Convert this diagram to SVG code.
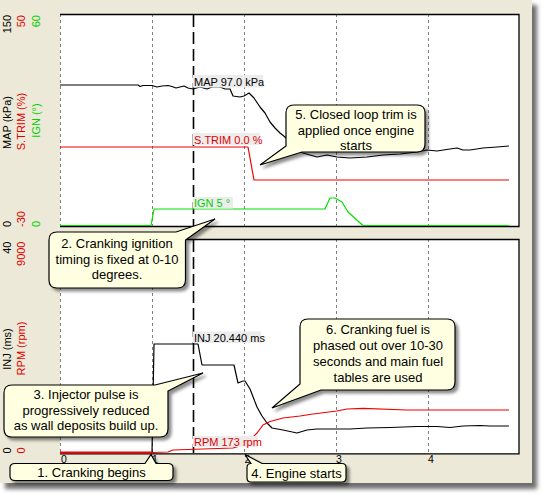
<svg xmlns="http://www.w3.org/2000/svg" width="544" height="496" viewBox="0 0 544 496">
<defs>
<filter id="fshadow" x="-5%" y="-5%" width="115%" height="115%"><feGaussianBlur stdDeviation="2.2"/></filter>
<filter id="cshadow" x="-10%" y="-20%" width="130%" height="150%"><feDropShadow dx="3" dy="3" stdDeviation="1.4" flood-color="#000" flood-opacity="0.45"/></filter>
<style>
text{font-family:"Liberation Sans",Arial,sans-serif}
.ax{font-size:11px}
.tick{font-size:10.5px}
.blk{fill:#000}.red{fill:#e00000}.grn{fill:#00d000}
.grid{stroke:#808080;stroke-width:1;stroke-dasharray:3 3;fill:none}
.brd{stroke:#000;stroke-width:1.3;fill:none}
.cur{fill:none;stroke-width:1.2;stroke-linejoin:round}
.lbl{fill:#ececec}
.dlab{font-size:11px}
.call{fill:#ffffe1;stroke:#000;stroke-width:1.2;filter:url(#cshadow)}
.ct{font-size:13px;fill:#000;text-anchor:middle}
.mark{stroke:#000;stroke-width:1.6;stroke-dasharray:12 5;fill:none}
</style>
</defs>

<rect x="5" y="5" width="532" height="484" fill="#6e6e6e" filter="url(#fshadow)"/>
<rect x="0" y="0" width="532" height="483" fill="#ece9d8"/>

<g id="plot-top">
<rect x="60" y="14" width="459" height="212.5" fill="#fff"/>
<line class="grid" x1="60.5" y1="14" x2="60.5" y2="226"/>
<line class="grid" x1="152.5" y1="14" x2="152.5" y2="226"/>
<line class="grid" x1="244.5" y1="14" x2="244.5" y2="226"/>
<line class="grid" x1="336.5" y1="14" x2="336.5" y2="226"/>
<line class="grid" x1="428.5" y1="14" x2="428.5" y2="226"/>
<polyline class="brd" points="60,14.5 519,14.5 519,226.5 60,226.5"/>
</g>
<g id="plot-bottom">
<rect x="60" y="239" width="459" height="214.5" fill="#fff"/>
<line class="grid" x1="60.5" y1="239" x2="60.5" y2="453"/>
<line class="grid" x1="152.5" y1="239" x2="152.5" y2="453"/>
<line class="grid" x1="244.5" y1="239" x2="244.5" y2="453"/>
<line class="grid" x1="336.5" y1="239" x2="336.5" y2="453"/>
<line class="grid" x1="428.5" y1="239" x2="428.5" y2="453"/>
<polyline class="brd" points="60,239.5 519,239.5 519,453.8 60,453.8"/>
</g>

<g id="marker-line">
<line class="mark" x1="193.5" y1="15" x2="193.5" y2="226"/>
<line class="mark" x1="193.5" y1="240" x2="193.5" y2="453"/>
</g>

<g id="axis-labels" class="ax">
<text class="blk" transform="translate(11,15) rotate(-90)" text-anchor="end">150</text>
<text class="red" transform="translate(25,15) rotate(-90)" text-anchor="end">50</text>
<text class="grn" transform="translate(40,15) rotate(-90)" text-anchor="end">60</text>
<text class="blk" transform="translate(11,122.5) rotate(-90)" text-anchor="middle">MAP (kPa)</text>
<text class="red" transform="translate(25,121.5) rotate(-90)" text-anchor="middle">S.TRIM (%)</text>
<text class="grn" transform="translate(40,120.5) rotate(-90)" text-anchor="middle">IGN (°)</text>
<text class="blk" transform="translate(11,227) rotate(-90)">0</text>
<text class="red" transform="translate(25,227) rotate(-90)">-30</text>
<text class="grn" transform="translate(40,227) rotate(-90)">0</text>
<text class="blk" transform="translate(11,241.5) rotate(-90)" text-anchor="end">40</text>
<text class="red" transform="translate(25,241.5) rotate(-90)" text-anchor="end">9000</text>
<text class="blk" transform="translate(11,349) rotate(-90)" text-anchor="middle">INJ (ms)</text>
<text class="red" transform="translate(25,348.5) rotate(-90)" text-anchor="middle">RPM (rpm)</text>
<text class="blk" transform="translate(11,453.5) rotate(-90)">0</text>
<text class="red" transform="translate(25,453.5) rotate(-90)">0</text>
</g>
<g id="x-ticks" class="tick">
<text class="blk" x="61" y="463">0</text>
<text class="blk" x="152" y="463">1</text>
<text class="blk" x="244.5" y="463">2</text>
<text class="blk" x="336" y="463">3</text>
<text class="blk" x="428" y="463">4</text>
</g>

<g id="curves">
<polyline class="cur" stroke="#000" points="60,85 138,85 140,86.5 143,85.5 152,85.5 157,87 162,86 168,85.5 172,86.5 176,88 180,87 184,86 188,88 193,89 200,87 207,89 212,87 220,87 225,89 230,89 233,96 240,97 244,96 249,93 254,98 260,107 265,113 270,122 275,128 280,133 285,137 290,142 295,147 300,152 303,153 317,157 327,155 337,157 350,158 367,157 383,155 400,154 417,152 427,150 437,151 450,149 457,148 463,150 470,150 483,148 497,147 509,146"/>
<polyline class="cur" stroke="#f00000" stroke-width="1.5" points="60,147 248,147 254,180 509,180"/>
<polyline class="cur" stroke="#00e000" points="60,225.5 151,225.5 154,209 325,209 330,198 335,198 342,202 348,212 363,225.5 509,225.5"/>
<polyline class="cur" stroke="#000" points="60,452.5 152,452.5 154,344 198,344 202,365 234,365 238,383 243,381 245,381 250,389 257,407 262,416 267,423 272,428 283,430 297,433 307,430 317,429 350,429 367,428 390,427.5 417,426.5 437,426.5 450,427.5 463,426 480,425.5 490,426 509,426"/>
<line x1="60" y1="452.5" x2="152" y2="452.5" stroke="#f00000" stroke-width="2.2"/>
<polyline class="cur" stroke="#f00000" points="152,452.5 168,452 173,450 233,448 240,446 250,440 257,433 263,425 270,421.5 283,418 300,416 313,414 337,411 347,409 363,408.3 407,410 509,410"/>
</g>

<g id="data-labels" class="dlab">
<rect class="lbl" x="193" y="75" width="70" height="12.5"/>
<text class="blk" x="194" y="85.5">MAP 97.0 kPa</text>
<rect class="lbl" x="193" y="133" width="67" height="12"/>
<text class="red" x="194" y="143.5">S.TRIM 0.0 %</text>
<rect class="lbl" x="193" y="197" width="40" height="11.5"/>
<text class="grn" x="194" y="207">IGN 5 °</text>
<rect class="lbl" x="193" y="331.5" width="68" height="11.5"/>
<text class="blk" x="194" y="342">INJ 20.440 ms</text>
<rect class="lbl" x="193" y="436" width="65" height="11"/>
<text class="red" x="194" y="446">RPM 173 rpm</text>
</g>

<g id="callout-1">
<path class="call" d="M15,463.5 H145 L151,454.5 L156,463.5 H168 Q173,463.5 173,468 V476 Q173,480.5 168,480.5 H15 Q10,480.5 10,476 V468 Q10,463.5 15,463.5 Z"/>
<text class="ct" x="91.5" y="476.5">1. Cranking begins</text>
</g>
<g id="callout-2">
<path class="call" d="M57,232 H176 L215,219 L185.5,240 V280 Q185.5,288 177.5,288 H57 Q49,288 49,280 V240 Q49,232 57,232 Z"/>
<text class="ct" x="117" y="248">2. Cranking ignition</text>
<text class="ct" x="117" y="263.5">timing is fixed at 0-10</text>
<text class="ct" x="117" y="279">degrees.</text>
</g>
<g id="callout-3">
<path class="call" d="M12,385 H155 L203,373 L168,391 V429 Q168,437 160,437 H12 Q4,437 4,429 V393 Q4,385 12,385 Z"/>
<text class="ct" x="86" y="398.5">3. Injector pulse is</text>
<text class="ct" x="86" y="414.5">progressively reduced</text>
<text class="ct" x="86" y="430">as wall deposits build up.</text>
</g>
<g id="callout-4">
<path class="call" d="M251,463.5 L245,454.5 L262,463.5 H342 Q346,463.5 346,467.5 V478 Q346,482 342,482 H251 Q247,482 247,478 V467.5 Q247,463.5 251,463.5 Z"/>
<text class="ct" x="296.5" y="478">4. Engine starts</text>
</g>
<g id="callout-5">
<path class="call" d="M294,105 H417 Q425,105 425,113 V144 Q425,152 417,152 H302 L260,165 L286,146 V113 Q286,105 294,105 Z"/>
<text class="ct" x="356" y="118.5">5. Closed loop trim is</text>
<text class="ct" x="356" y="134.5">applied once engine</text>
<text class="ct" x="356" y="150">starts</text>
</g>
<g id="callout-6">
<path class="call" d="M308,319 H447 Q455,319 455,327 V382 Q455,390 447,390 H321 L272,408 L300,384 V327 Q300,319 308,319 Z"/>
<text class="ct" x="378" y="333.5">6. Cranking fuel is</text>
<text class="ct" x="378" y="349.5">phased out over 10-30</text>
<text class="ct" x="378" y="365.5">seconds and main fuel</text>
<text class="ct" x="378" y="381.5">tables are used</text>
</g>
</svg>
